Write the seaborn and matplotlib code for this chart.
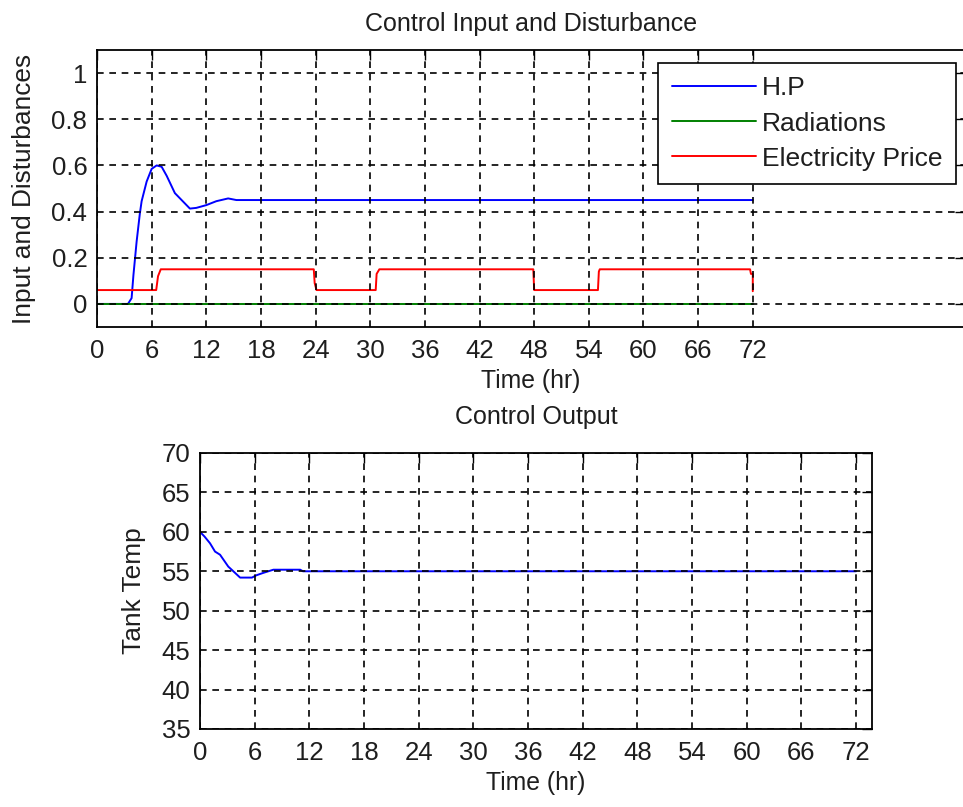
import matplotlib
matplotlib.use("Agg")
import matplotlib.pyplot as plt
import seaborn as sns

# ---- series -------------------------------------------------------------
hp_time = [0, 3.4, 3.8, 4.0, 4.35, 4.7, 4.9, 5.45, 6.0, 6.55, 7.1, 7.65,
           8.55, 10.2, 10.9, 12.0, 13.1, 14.4, 15.3, 72]
hp_value = [0, 0, 0.025, 0.125, 0.27, 0.39, 0.445, 0.53, 0.585, 0.60, 0.594,
            0.555, 0.48, 0.413, 0.416, 0.428, 0.445, 0.457, 0.45, 0.45]

rad_time = [0, 72]
rad_value = [0, 0]

price_time = [0, 6.5, 6.7, 7.0, 23.8, 23.9, 24.1, 30.6, 30.7, 31.0, 47.9,
              48.0, 55.0, 55.1, 55.2, 71.7, 71.8, 72.0, 72.0]
price_value = [0.06, 0.06, 0.12, 0.15, 0.15, 0.09, 0.06, 0.06, 0.13, 0.15,
               0.15, 0.06, 0.06, 0.14, 0.15, 0.15, 0.13, 0.13, 0.055]

temp_time = [0, 0.5, 1.1, 1.65, 2.2, 3.1, 3.66, 4.4, 5.7, 6.2, 6.95, 8.05,
             11.0, 11.3, 72]
temp_value = [60.0, 59.4, 58.55, 57.5, 57.1, 55.6, 55.0, 54.2, 54.2, 54.5,
              54.8, 55.2, 55.2, 55.0, 55.0]

series_labels = ["H.P", "Radiations", "Electricity Price"]
series_colors = ["#0000FF", "#008000", "#FF0000"]

hour_ticks = list(range(0, 73, 6))
top_yticks = [0, 0.2, 0.4, 0.6, 0.8, 1.0]
top_yticklabels = ["0", "0.2", "0.4", "0.6", "0.8", "1"]
bottom_yticks = list(range(35, 71, 5))

# ---- style --------------------------------------------------------------
sns.set_style("white")
plt.rcParams["font.family"] = ["Liberation Sans", "DejaVu Sans"]
plt.rcParams["text.color"] = "#1e1e1e"
plt.rcParams["axes.labelcolor"] = "#1e1e1e"
plt.rcParams["xtick.color"] = "black"
plt.rcParams["ytick.color"] = "black"
plt.rcParams["xtick.labelcolor"] = "#1e1e1e"
plt.rcParams["ytick.labelcolor"] = "#1e1e1e"

TICK_FS = 18.5
TITLE_FS = 18
XLABEL_FS = 17.8
YLABEL_FS = 18.9
LEGEND_FS = 19

W, H = 963, 807
fig = plt.figure(figsize=(W / 100, H / 100), dpi=100)


def frac(left, top, right, bottom):
    return [left / W, 1 - bottom / H, (right - left) / W, (bottom - top) / H]


def style_axes(ax):
    for sp in ax.spines.values():
        sp.set_visible(True)
        sp.set_color("black")
        sp.set_linewidth(1.3)
    ax.tick_params(direction="in", length=7.5, width=1.0, top=True,
                   right=True, labelsize=TICK_FS)
    ax.tick_params(axis="x", pad=9)
    ax.tick_params(axis="y", pad=7)
    ax.grid(True, color="black", linewidth=1.2, linestyle=(0, (4.0, 3.4)))
    ax.set_axisbelow(False)


# ---- top panel: control input and disturbances ---------------------------
ax1 = fig.add_axes(frac(97, 50, 965, 327))
for t, v, lab, col in zip([hp_time, rad_time, price_time],
                          [hp_value, rad_value, price_value],
                          series_labels, series_colors):
    sns.lineplot(x=t, y=v, ax=ax1, color=col, label=lab, linewidth=1.4,
                 estimator=None, sort=False)
ax1.set_xlim(0, 95.3)
ax1.set_ylim(-0.1, 1.1)
ax1.set_xticks(hour_ticks)
ax1.set_xticklabels([str(h) for h in hour_ticks])
ax1.set_yticks(top_yticks)
ax1.set_yticklabels(top_yticklabels)
style_axes(ax1)
ax1.set_title("Control Input and Disturbance", fontsize=TITLE_FS, pad=14)
ax1.set_xlabel("Time (hr)", fontsize=XLABEL_FS, labelpad=4)
ax1.set_ylabel("Input and Disturbances", fontsize=YLABEL_FS, labelpad=11)
leg = ax1.legend(loc="upper right", bbox_to_anchor=(0.9896, 0.954),
                 borderaxespad=0, fontsize=LEGEND_FS, handlelength=3.2,
                 handletextpad=0.22, labelspacing=0.42, borderpad=0.52,
                 fancybox=False, framealpha=1, edgecolor="black")
leg.get_frame().set_linewidth(1.2)

# ---- bottom panel: tank temperature -------------------------------------
ax2 = fig.add_axes(frac(200, 453, 872, 729))
sns.lineplot(x=temp_time, y=temp_value, ax=ax2, color="#0000FF",
             linewidth=1.4, estimator=None, sort=False)
ax2.set_xlim(0, 73.75)
ax2.set_ylim(35, 70)
ax2.set_xticks(hour_ticks)
ax2.set_xticklabels([str(h) for h in hour_ticks])
ax2.set_yticks(bottom_yticks)
style_axes(ax2)
ax2.set_title("Control Output", fontsize=TITLE_FS, pad=21)
ax2.set_xlabel("Time (hr)", fontsize=XLABEL_FS, labelpad=4)
ax2.set_ylabel("Tank Temp", fontsize=YLABEL_FS, labelpad=11)

fig.savefig("out.png", dpi=100)
